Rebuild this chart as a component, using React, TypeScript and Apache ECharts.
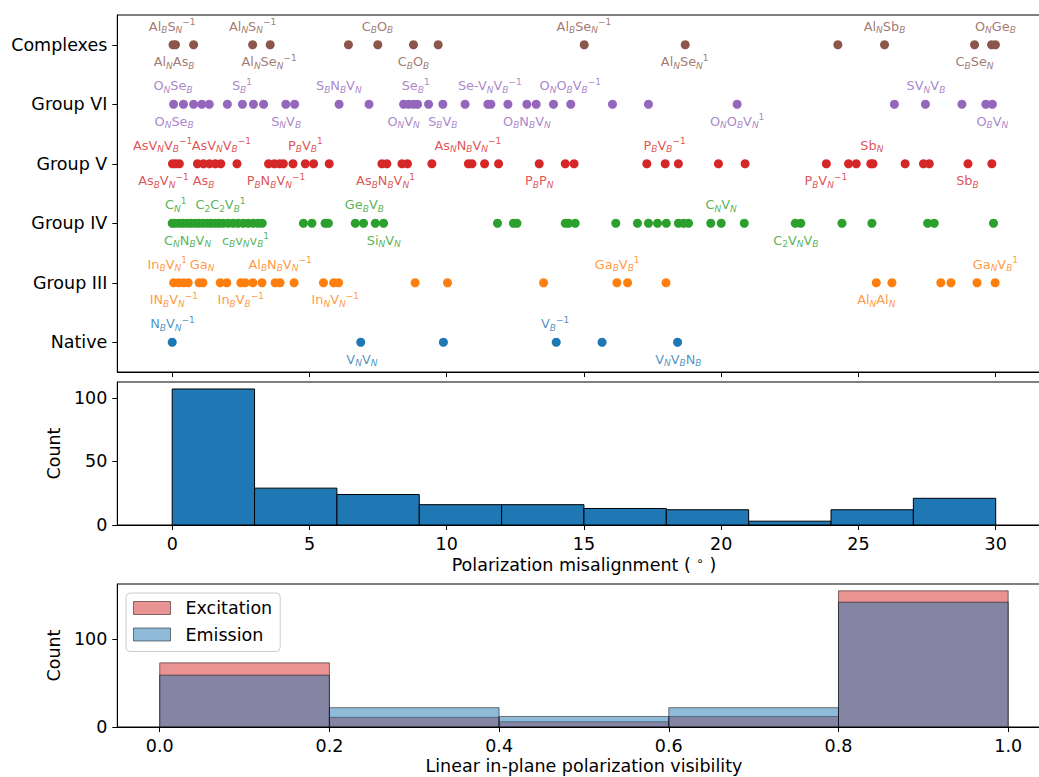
import React, { useEffect, useRef } from 'react';
import * as echarts from 'echarts';

const FONT = 'DejaVu Sans';

// ---------- Top panel: misalignment per defect group ----------
const categories = ['Native', 'Group III', 'Group IV', 'Group V', 'Group VI', 'Complexes'];
const groupColors = ['#1f77b4', '#ff7f0e', '#2ca02c', '#d62728', '#9467bd', '#8c564b'];

const nativeX = [0.0, 6.87, 9.88, 13.99, 15.66, 18.41];
const group3X = [0.05, 0.23, 0.41, 0.58, 0.98, 1.12, 1.75, 1.99, 2.5, 2.66, 2.94, 3.27, 3.75, 3.93, 4.44, 5.51, 5.88, 6.06, 8.85, 10.03, 13.53, 16.2, 16.59, 17.99, 25.65, 26.22, 28.0, 28.37, 29.32, 29.98];
const group4X = [0.0, 0.11, 0.26, 0.4, 0.55, 0.69, 0.84, 0.98, 1.13, 1.28, 1.42, 1.57, 1.71, 1.86, 2.04, 2.22, 2.4, 2.59, 2.77, 2.95, 3.13, 3.28, 4.78, 5.09, 5.57, 5.69, 6.67, 6.97, 7.4, 7.7, 11.85, 12.43, 12.56, 14.32, 14.44, 14.68, 16.16, 16.95, 17.35, 17.68, 18.0, 18.44, 18.63, 18.81, 19.62, 20.0, 20.84, 22.7, 22.9, 24.4, 25.49, 27.52, 27.76, 29.92];
const group5X = [0.01, 0.13, 0.26, 0.92, 1.14, 1.36, 1.57, 1.77, 2.36, 3.51, 3.72, 3.91, 4.05, 4.4, 4.85, 5.15, 5.72, 7.64, 7.82, 8.37, 8.57, 9.46, 10.79, 10.92, 11.38, 11.89, 13.37, 14.32, 14.64, 17.29, 17.96, 18.44, 19.9, 20.87, 23.83, 24.64, 24.92, 25.45, 25.53, 26.7, 27.37, 27.58, 28.99, 29.86];
const group6X = [0.05, 0.41, 0.78, 1.08, 1.35, 2.01, 2.56, 2.96, 3.33, 4.14, 4.46, 6.08, 7.17, 8.43, 8.61, 8.79, 8.94, 9.34, 9.86, 10.67, 11.5, 11.61, 12.23, 12.92, 13.26, 13.89, 14.52, 16.04, 17.35, 20.58, 26.31, 27.44, 28.77, 29.64, 29.88];
const complexX = [0.03, 0.12, 0.78, 2.93, 3.57, 6.42, 7.49, 8.79, 9.69, 15.01, 18.69, 24.25, 25.95, 29.23, 29.85, 29.99];

type Ann = [number, string, 'top' | 'bottom'];
const nativeLabels: Ann[] = [
  [0.01, 'N_BV_N^{-1}', 'top'], [13.95, 'V_B^{-1}', 'top'],
  [6.91, 'V_NV_N', 'bottom'], [18.44, 'V_NV_BN_B', 'bottom'],
];
const group3Labels: Ann[] = [
  [-0.18, 'In_BV_N^{1}', 'top'], [1.09, 'Ga_N', 'top'], [3.93, 'Al_BN_BV_N^{-1}', 'top'],
  [16.21, 'Ga_BV_B^{1}', 'top'], [29.99, 'Ga_NV_B^{1}', 'top'],
  [0.06, 'IN_BV_N^{-1}', 'bottom'], [2.5, 'In_BV_B^{-1}', 'bottom'], [5.94, 'In_NV_N^{-1}', 'bottom'],
  [25.65, 'Al_NAl_N', 'bottom'],
];
const group4Labels: Ann[] = [
  [0.13, 'C_N^{1}', 'top'], [1.76, 'C_2C_2V_B^{1}', 'top'], [7.0, 'Ge_BV_B', 'top'], [20.0, 'C_NV_N', 'top'],
  [0.56, 'C_NN_BV_N', 'bottom'], [2.67, 'c_Bv_Nv_B^{1}', 'bottom'], [7.71, 'Si_NV_N', 'bottom'],
  [22.72, 'C_2V_NV_B', 'bottom'],
];
const group5Labels: Ann[] = [
  [-0.35, 'AsV_NV_B^{-1}', 'top'], [1.79, 'AsV_NV_B^{-1}', 'top'], [4.85, 'P_BV_B^{1}', 'top'],
  [10.77, 'As_NN_BV_N^{-1}', 'top'], [17.94, 'P_BV_B^{-1}', 'top'], [25.49, 'Sb_N', 'top'],
  [-0.32, 'As_BV_N^{-1}', 'bottom'], [1.14, 'As_B', 'bottom'], [3.78, 'P_BN_BV_N^{-1}', 'bottom'],
  [7.77, 'As_BN_BV_N^{1}', 'bottom'], [13.37, 'P_BP_N', 'bottom'], [23.81, 'P_BV_N^{-1}', 'bottom'],
  [28.97, 'Sb_B', 'bottom'],
];
const group6Labels: Ann[] = [
  [0.03, 'O_NSe_B', 'top'], [2.54, 'S_B^{1}', 'top'], [6.07, 'S_BN_BV_N', 'top'], [8.87, 'Se_B^{1}', 'top'],
  [11.57, 'Se-V_NV_B^{-1}', 'top'], [14.5, 'O_NO_BV_B^{-1}', 'top'], [27.46, 'SV_NV_B', 'top'],
  [0.07, 'O_NSe_B', 'bottom'], [4.15, 'S_NV_B', 'bottom'], [8.43, 'O_NV_N', 'bottom'],
  [9.86, 'S_BV_B', 'bottom'], [12.92, 'O_BN_BV_N', 'bottom'], [20.58, 'O_NO_BV_N^{1}', 'bottom'],
  [29.88, 'O_BV_N', 'bottom'],
];
const complexLabels: Ann[] = [
  [0.0, 'Al_BS_N^{-1}', 'top'], [2.93, 'Al_NS_N^{-1}', 'top'], [7.48, 'C_BO_B', 'top'],
  [15.0, 'Al_BSe_N^{-1}', 'top'], [25.95, 'Al_NSb_B', 'top'], [29.99, 'O_NGe_B', 'top'],
  [0.07, 'Al_NAs_B', 'bottom'], [3.53, 'Al_NSe_N^{-1}', 'bottom'], [8.79, 'C_BO_B', 'bottom'],
  [18.67, 'Al_NSe_N^{1}', 'bottom'], [29.23, 'C_BSe_N', 'bottom'],
];

const groupXs = [nativeX, group3X, group4X, group5X, group6X, complexX];
const groupLabels = [nativeLabels, group3Labels, group4Labels, group5Labels, group6Labels, complexLabels];

// ---------- Middle panel: misalignment histogram ----------
const misEdges = [0, 3, 6, 9, 12, 15, 18, 21, 24, 27, 30];
const misCounts = [107, 29, 24, 16, 16, 13, 12, 3, 12, 21];
const misTicks = [0, 5, 10, 15, 20, 25, 30];
const misYTicks = [0, 50, 100];

// ---------- Bottom panel: visibility histograms ----------
const visEdges = [0, 0.2, 0.4, 0.6, 0.8, 1.0];
const excitationCounts = [73, 11, 6, 12, 155];
const emissionCounts = [59, 22, 12, 22, 142];
const visTicks = [0, 0.2, 0.4, 0.6, 0.8, 1.0];
const visYTicks = [0, 100];

function toRich(s: string): string {
  let out = '';
  let buf = '';
  const flush = () => {
    if (buf) { out += `{m|${buf}}`; buf = ''; }
  };
  for (let i = 0; i < s.length; i++) {
    const c = s[i];
    if (c === '_') {
      flush();
      const n = s[++i];
      out += /[0-9]/.test(n) ? `{sd|${n}}` : `{s|${n}}`;
    } else if (c === '^') {
      flush();
      const j = s.indexOf('}', i);
      const t = s.slice(i + 2, j).replace('-', '\u2212');
      out += `{p|${t}}`;
      i = j;
    } else {
      buf += c;
    }
  }
  flush();
  return out;
}

const labelRich = {
  m: { fontSize: 12.9, lineHeight: 17, fontFamily: FONT },
  s: { fontSize: 9, lineHeight: 10, verticalAlign: 'bottom', fontStyle: 'italic', fontFamily: FONT },
  sd: { fontSize: 9, lineHeight: 10, verticalAlign: 'bottom', fontFamily: FONT },
  p: { fontSize: 9, lineHeight: 10, verticalAlign: 'top', fontFamily: FONT },
};

const tickFont = { fontSize: 17.5, color: '#000', fontFamily: FONT };
const axisLine = { show: true, onZero: false, lineStyle: { color: '#000', width: 1 } };

function histSeries(edges: number[], counts: number[], idx: number, fill: string, stroke: string, name?: string) {
  return {
    type: 'custom',
    name,
    xAxisIndex: idx,
    yAxisIndex: idx,
    silent: true,
    data: counts.map((c, i) => [edges[i], edges[i + 1], c]),
    encode: { x: [0, 1], y: 2 },
    itemStyle: { color: fill, borderColor: stroke },
    renderItem: (_params: any, api: any) => {
      const p0 = api.coord([api.value(0), api.value(2)]);
      const p1 = api.coord([api.value(1), 0]);
      return {
        type: 'rect',
        shape: { x: p0[0], y: p0[1], width: p1[0] - p0[0], height: p1[1] - p0[1] },
        style: { fill, stroke, lineWidth: 1 },
      };
    },
  };
}

function buildOption() {
  const gridBase = { left: 117.3, width: 933.3, show: true, borderColor: '#000', borderWidth: 1, backgroundColor: 'transparent', containLabel: false, outerBoundsMode: 'none' };
  const series: any[] = [];
  categories.forEach((cat, gi) => {
    series.push({
      type: 'scatter',
      xAxisIndex: 0,
      yAxisIndex: 0,
      symbolSize: 9,
      silent: true,
      itemStyle: { color: groupColors[gi], opacity: 1 },
      data: groupXs[gi].map((x) => [x, cat]),
      z: 2,
    });
    series.push({
      type: 'scatter',
      xAxisIndex: 0,
      yAxisIndex: 0,
      symbolSize: 0,
      silent: true,
      z: 3,
      data: groupLabels[gi].map(([x, text, pos]) => ({
        value: [x, cat],
        label: {
          show: true,
          position: pos,
          distance: pos === 'top' ? 10 : 8.5,
          formatter: toRich(text),
          color: groupColors[gi],
          rich: labelRich,
        },
      })),
    });
  });
  series.push(histSeries(misEdges, misCounts, 1, '#1f77b4', '#000'));
  series.push(histSeries(visEdges, excitationCounts, 2, 'rgba(214,39,40,0.5)', 'rgba(0,0,0,0.5)', 'Excitation'));
  series.push(histSeries(visEdges, emissionCounts, 2, 'rgba(31,119,180,0.5)', 'rgba(0,0,0,0.5)', 'Emission'));

  const tick = (vals: number[]) => ({ show: true, length: 5, customValues: vals, lineStyle: { color: '#000', width: 1 } });

  return {
    animation: false,
    backgroundColor: '#fff',
    grid: [
      { ...gridBase, top: 15, height: 357 },
      { ...gridBase, top: 382, height: 143 },
      { ...gridBase, top: 584, height: 143 },
    ],
    legend: {
      show: true,
      selectedMode: false,
      orient: 'vertical',
      left: 126,
      top: 593,
      itemWidth: 37,
      itemHeight: 13,
      itemGap: 6.5,
      padding: [5, 8, 7, 7],
      borderColor: '#cccccc',
      borderWidth: 1,
      borderRadius: 4,
      backgroundColor: 'rgba(255,255,255,0.8)',
      icon: 'rect',
      textStyle: { ...tickFont, lineHeight: 20, padding: [0, 0, 0, 10] },
      data: [
        { name: 'Excitation', itemStyle: { color: 'rgba(214,39,40,0.5)', borderColor: 'rgba(0,0,0,0.5)', borderWidth: 1 } },
        { name: 'Emission', itemStyle: { color: 'rgba(31,119,180,0.5)', borderColor: 'rgba(0,0,0,0.5)', borderWidth: 1 } },
      ],
    },
    xAxis: [
      {
        gridIndex: 0, type: 'value', min: -2, max: 32,
        axisLine, axisTick: tick(misTicks), axisLabel: { show: false, customValues: misTicks }, splitLine: { show: false },
      },
      {
        gridIndex: 1, type: 'value', min: -2, max: 32,
        axisLine, axisTick: tick(misTicks),
        axisLabel: { ...tickFont, margin: 10, customValues: misTicks, formatter: (v: number) => String(v) },
        splitLine: { show: false },
        name: '{a|Polarization misalignment ( }{d|\u2218}{a| )}',
        nameLocation: 'middle',
        nameGap: 30,
        nameTextStyle: {
          ...tickFont,
          rich: {
            a: { ...tickFont, lineHeight: 20 },
            d: { fontSize: 12, lineHeight: 12, verticalAlign: 'top', fontFamily: FONT, color: '#000' },
          },
        },
      },
      {
        gridIndex: 2, type: 'value', min: -0.05, max: 1.05,
        axisLine, axisTick: tick(visTicks),
        axisLabel: { ...tickFont, margin: 10, customValues: visTicks, formatter: (v: number) => v.toFixed(1) },
        splitLine: { show: false },
        name: 'Linear in-plane polarization visibility',
        nameLocation: 'middle',
        nameGap: 30,
        nameTextStyle: { ...tickFont },
      },
    ],
    yAxis: [
      {
        gridIndex: 0, type: 'category', data: categories,
        axisLine, axisTick: { show: true, length: 5, alignWithLabel: true, lineStyle: { color: '#000', width: 1 } },
        axisLabel: { ...tickFont, margin: 10 },
        splitLine: { show: false },
      },
      {
        gridIndex: 1, type: 'value', min: 0, max: 112.5,
        axisLine, axisTick: tick(misYTicks),
        axisLabel: { ...tickFont, margin: 10, customValues: misYTicks, formatter: (v: number) => String(v) },
        splitLine: { show: false },
        name: 'Count', nameLocation: 'middle', nameGap: 49, nameTextStyle: { ...tickFont },
      },
      {
        gridIndex: 2, type: 'value', min: 0, max: 162.75,
        axisLine, axisTick: tick(visYTicks),
        axisLabel: { ...tickFont, margin: 10, customValues: visYTicks, formatter: (v: number) => String(v) },
        splitLine: { show: false },
        name: 'Count', nameLocation: 'middle', nameGap: 49, nameTextStyle: { ...tickFont },
      },
    ],
    series,
  };
}

export default function App() {
  const ref = useRef<HTMLDivElement>(null);
  useEffect(() => {
    if (!ref.current) return;
    const chart = echarts.init(ref.current, null, { renderer: 'svg' });
    chart.setOption(buildOption() as any);
    return () => chart.dispose();
  }, []);
  return (
    <div
      ref={ref}
      style={{ position: 'fixed', left: 0, top: 0, width: 1039, height: 777, background: '#fff' }}
    />
  );
}
